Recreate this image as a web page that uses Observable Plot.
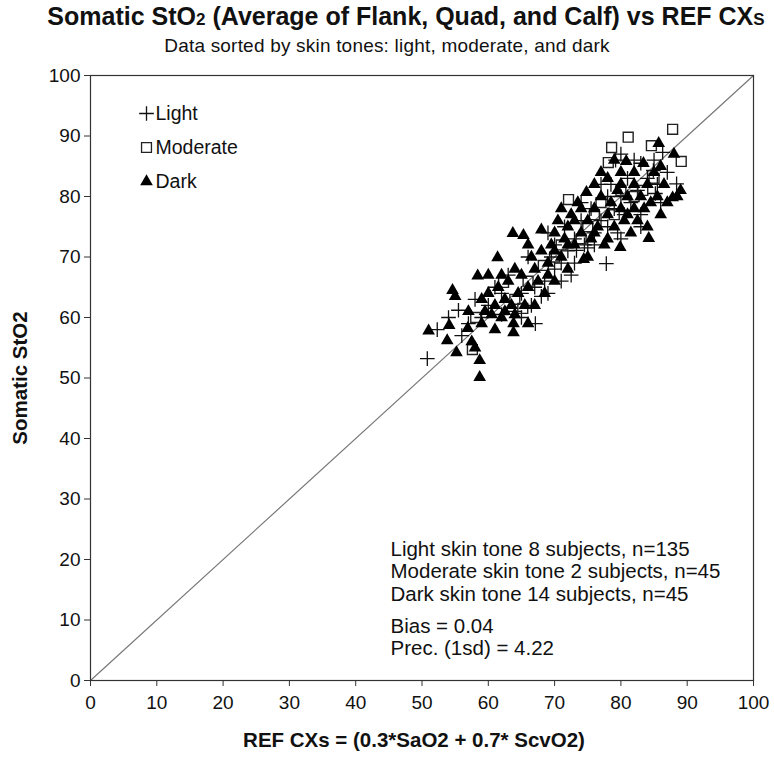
<!DOCTYPE html>
<html>
<head>
<meta charset="utf-8">
<script src="https://cdn.jsdelivr.net/npm/d3@7"></script>
<script src="https://cdn.jsdelivr.net/npm/@observablehq/plot@0.6"></script>
<style>
  body { margin: 0; background: #fff; font-family: "Liberation Sans", Arial, sans-serif; }
  #wrap { position: relative; width: 774px; height: 757px; }
  #title { position: absolute; left: 0; top: 2px; width: 812px; text-align: center; font-weight: bold; font-size: 25px; color: #111; letter-spacing: 0px; }
  #subtitle { position: absolute; left: 0; top: 35px; width: 774px; text-align: center; font-size: 19px; color: #111; letter-spacing: 0.2px; }
  #chart { position: absolute; left: 0; top: 0; }
  .sub { font-size: 0.68em; }
</style>
</head>
<body>
<div id="wrap">
  <div id="chart"></div>
  <div id="title">Somatic StO<span class="sub">2</span> (Average of Flank, Quad, and Calf) vs REF CX<span class="sub">S</span></div>
  <div id="subtitle">Data sorted by skin tones: light, moderate, and dark</div>
</div>
<script>
// Light skin tone (+): [REF CXs, Somatic StO2]
const light = [
  [50.8,53.2],[52.3,58],[55.5,61.2],[56,57],[58,63],[60,62],[62,64],[63,67],[64,61],[65,64],
  [66,70],[67.1,59],[67,65],[68,63.5],[68.5,66],[69,64],[69.5,70],[70,72],[71,69],[71.5,75],
  [72,71],[73,73],[73.3,71.1],[74,76],[74.5,72],[75,71.5],[75.5,78],[76,74],[77,76],[77.8,68.9],
  [78,80],[78.5,82],[79,78],[79.2,86],[79.5,74],[80,80],[80.5,77],[81,83],[81.5,79],[82,86],
  [82.5,81],[83,77],[84,83],[84.9,84.3],[85.2,80.5],[85.5,82],[86.3,87.3],[86,79],[88.4,82.1],[87,84],
  [62,60.5],[65,60],[66.5,62],[70,68],[72.5,67],[76,72],[78,75],[80,73],[83,75],[59,60],
  [61,65],[57,59],[54,60],[69,74],[74,79],[77,82],[80,87],[83,85.5],[85,86],[73,69],[71,66]
];
// Moderate skin tone (open squares)
const moderate = [
  [57.6,54.7],[58.1,60],[62.3,65.8],[65.2,61.5],[68.3,68.6],[72.1,79.5],[78.1,85.6],[78.6,88.1],
  [81.1,89.8],[84.6,88.4],[87.8,91.1],[89.1,85.8],[83.3,81],[70,70],[75,75],[77,79],[80,81],
  [74,73],[66,66],[82,80],[79,77],[76,77],[71,72],[64,63],[85,83]
];
// Dark skin tone (filled triangles)
const dark = [
  [51,57.8],[53.8,56.2],[54.1,58.7],[54.6,64.5],[55,63.5],[55.2,54.2],[56.9,58.2],[57.5,56],[58,55],[58.4,66.9],
  [58.7,52.9],[58.7,50.1],[59,63],[59.5,61],[60,64],[60.5,60.5],[61,62],[61.4,69.9],[61.5,65],[62,60],
  [62.5,61],[62.5,63],[63,66],[63.5,62],[63.7,73.9],[63.8,57.5],[63.8,59],[64,60.5],[64.5,64],[65,67],
  [65.3,73.6],[65.5,62],[66,65],[66.5,70],[67,68],[67.5,66],[68,71],[68,74.5],[68.5,64],[69,69],
  [69.5,72],[70,66],[70,74],[70.5,76],[71,70],[71.5,73],[72,68],[72,75],[72.5,77],[73,72],
  [73.5,79],[74,74],[74.4,69.6],[74.8,80.7],[75,76],[75.5,73],[76,78],[76,82],[76.5,75],[77,80],
  [77.5,72],[78,77],[78,83],[78.5,79],[79,75],[79.5,81],[79.9,71.6],[80,78],[80,84],[80.5,76],
  [80.8,85.8],[81,80],[81.5,74],[82,82],[82,78],[82.5,76],[83,80],[83.4,85.5],[83.5,78],[84,82],
  [84.2,73.1],[84.5,79],[85,84],[85.5,80],[85.7,88.8],[86,77],[86.5,82],[87,79],[87.8,79.8],[88.5,80],
  [89,81],[60,67],[66,72],[71,78],[77,84],[79,86],[73,76],[69,67],[67,62],[75,70],
  [81,77],[84,75],[76,74],[78,73],[72,72],[70,71],[64,68],[62,67],[57,61],[59,59],
  [61,58],[66,59],[74,78],[82,84],[86,85],[88,87],[80,82]
];
const ticks = [0,10,20,30,40,50,60,70,80,90,100];
const identity = [0, 100];
const legendItems = ["Light", "Moderate", "Dark"];
const notes1 = ["Light skin tone 8 subjects, n=135", "Moderate skin tone 2 subjects, n=45", "Dark skin tone 14 subjects, n=45"];
const notes2 = ["Bias = 0.04", "Prec. (1sd) = 4.22"];

const toObj = a => a.map(([x, y]) => ({x, y}));
const font = "'Liberation Sans', Arial, sans-serif";
const sym = {Light: {symbol: "plus", r: 4.8, fill: "none", stroke: "#111"},
             Moderate: {symbol: "square2", r: 6.3, fill: "none", stroke: "#222"},
             Dark: {symbol: "triangle", r: 4.7, fill: "#000", stroke: "none"}};

const legendMarks = legendItems.flatMap((d, i) => [
  Plot.dot([d], {frameAnchor: "top-left", dx: 56, dy: 38 + 34 * i, strokeWidth: 1.3, ...sym[d]}),
  Plot.text([d], {text: d => d, frameAnchor: "top-left", dx: 65, dy: 38 + 34 * i,
    textAnchor: "start", lineAnchor: "middle", fontSize: 19.5, fill: "#111"})
]);

const chart = Plot.plot({
  width: 774,
  height: 757,
  marginTop: 75,
  marginLeft: 90,
  marginRight: 21,
  marginBottom: 77,
  style: {fontFamily: font, fontSize: "18px", color: "#111", background: "white"},
  x: {domain: [0, 100], ticks, label: null},
  y: {domain: [0, 100], ticks, label: null},
  marks: [
    Plot.line(identity.map(v => ({x: v, y: v})), {x: "x", y: "y", stroke: "#777", strokeWidth: 1.2}),
    Plot.dot(toObj(light), {x: "x", y: "y", strokeWidth: 1.3, ...sym.Light}),
    Plot.dot(toObj(moderate), {x: "x", y: "y", strokeWidth: 1.4, ...sym.Moderate}),
    Plot.dot(toObj(dark), {x: "x", y: "y", ...sym.Dark}),
    Plot.frame({stroke: "#333", strokeWidth: 1.2}),
    Plot.axisX({ticks, tickSize: 6, tickPadding: 9, tickFormat: d => d, fontSize: 19, stroke: "#333", label: null}),
    Plot.axisY({ticks, tickSize: 6, tickPadding: 4, tickFormat: d => d, fontSize: 19, stroke: "#333", label: null}),
    ...legendMarks,
    // annotations
    Plot.text([notes1.join("\n")], {text: d => d, frameAnchor: "top-left", dx: 300, dy: 464, lineAnchor: "top",
      textAnchor: "start", fontSize: 20.5, lineHeight: 1.1, fill: "#111"}),
    Plot.text([notes2.join("\n")], {text: d => d, frameAnchor: "top-left", dx: 300, dy: 542, lineAnchor: "top",
      textAnchor: "start", fontSize: 20.5, lineHeight: 1.08, fill: "#111"}),
    // axis titles
    Plot.text(["REF CXs = (0.3*SaO2 + 0.7* ScvO2)"], {text: d => d, frameAnchor: "bottom", dx: -8, dy: 66,
      fontSize: 20.5, fontWeight: "bold", fill: "#111"}),
    Plot.text(["Somatic StO2"], {text: d => d, frameAnchor: "left", dx: -70, rotate: -90, textAnchor: "middle",
      fontSize: 20.5, fontWeight: "bold", fill: "#111"})
  ]
});
document.getElementById("chart").appendChild(chart);
</script>
</body>
</html>
